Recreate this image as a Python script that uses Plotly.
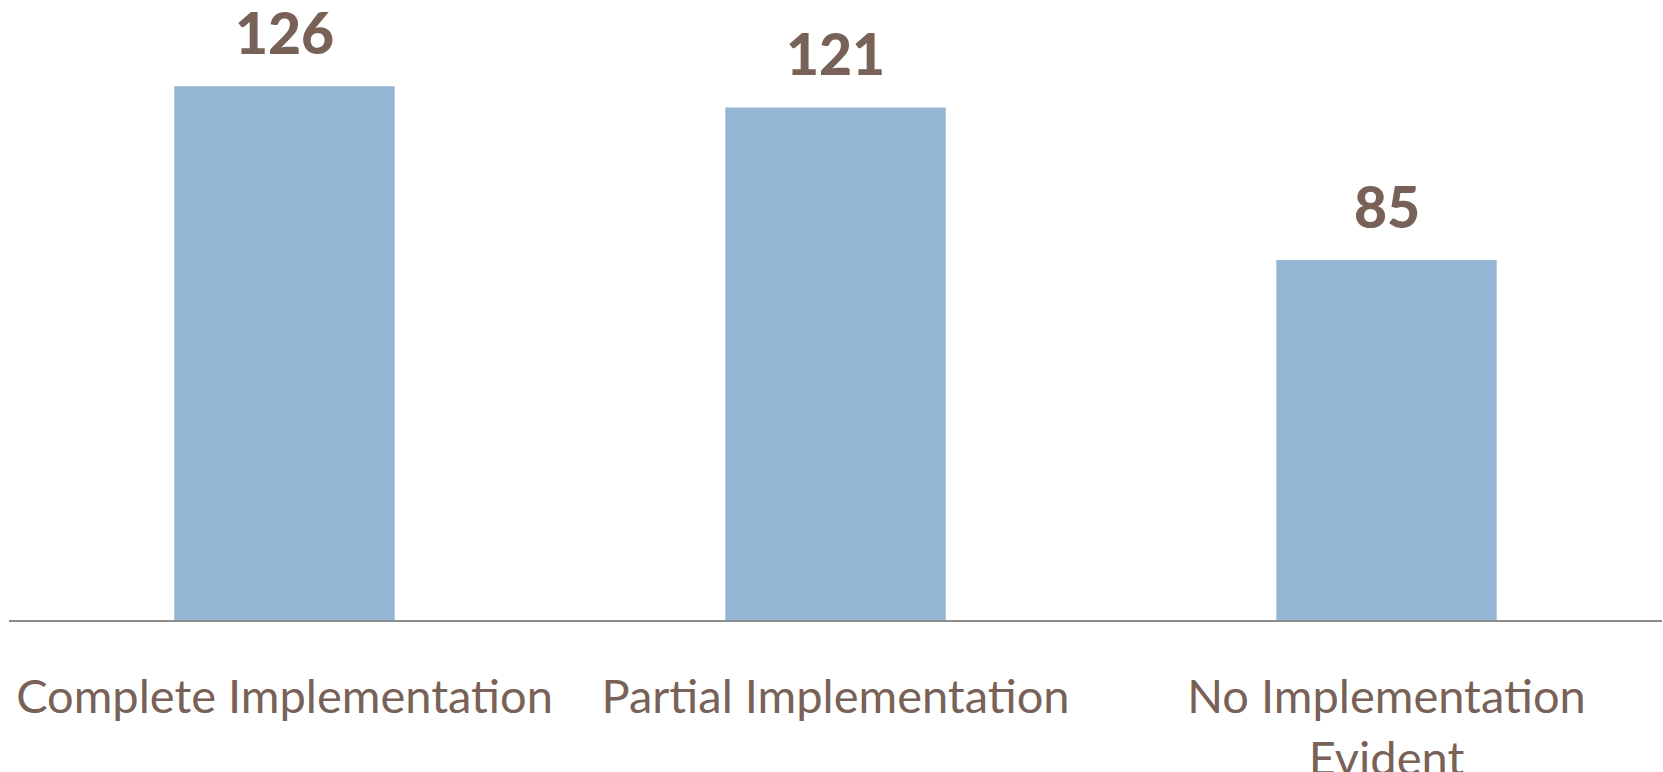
import plotly.graph_objects as go

# data
categories = ["Complete Implementation", "Partial Implementation", "No Implementation<br>Evident"]
counts     = [126, 121, 85]

BAR_COLOR  = "#94b5d3"
TEXT_COLOR = "#786157"

fig = go.Figure()
fig.add_trace(go.Bar(
    x=categories, y=counts,
    marker=dict(color=BAR_COLOR, line=dict(width=0)),
    width=0.4,
    hoverinfo="x+y",
))

# value labels above each bar
for cat, val in zip(categories, counts):
    fig.add_annotation(
        x=cat, y=val, text=str(val),
        showarrow=False, yanchor="bottom", yshift=18,
        font=dict(family="Lato", size=57, color=TEXT_COLOR, weight=900),
    )

fig.update_layout(
    width=1663, height=772,
    margin=dict(l=9, r=1, t=27, b=152),
    plot_bgcolor="white", paper_bgcolor="white",
    showlegend=False,
    bargap=0.6,
    xaxis=dict(
        automargin=False,
        showline=True, linecolor="#8c8c8c", linewidth=2,
        showgrid=False, ticks="", zeroline=False,
        ticklabelstandoff=35,
        tickfont=dict(family="Lato", size=47, color=TEXT_COLOR),
    ),
    yaxis=dict(
        automargin=False,
        range=[0, 140], visible=False, showgrid=False, zeroline=False,
    ),
)

# drop the default 8px body margin so the figure fills the window
fig.write_html(
    "out.html",
    config={"displayModeBar": False},
    post_script="document.body.style.margin='0';",
)
